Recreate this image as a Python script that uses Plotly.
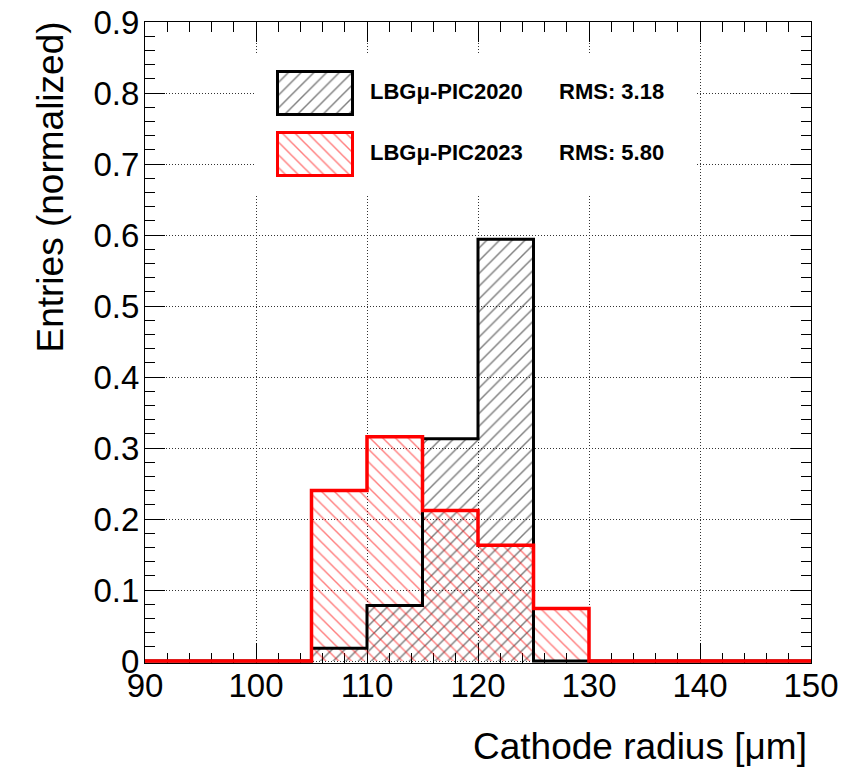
import plotly.graph_objects as go

# ---------------- data ----------------
bin_edges = [90, 95, 100, 105, 110, 115, 120, 125, 130, 135, 140, 145, 150]
pic2020 = [0, 0, 0, 0.018, 0.078, 0.313, 0.594, 0, 0, 0, 0, 0]
pic2023 = [0, 0, 0, 0.240, 0.316, 0.212, 0.163, 0.074, 0, 0, 0, 0]
label_2020 = "LBGμ-PIC2020"
label_2023 = "LBGμ-PIC2023"
rms_2020 = "RMS: 3.18"
rms_2023 = "RMS: 5.80"
x_title = "Cathode radius [μm]"
y_title = "Entries (normalized)"

# ---------------- geometry (page pixels; the page body has an 8px margin) ----------------
OFF = 8
PAGE_W, PAGE_H = 853, 774
W, H = PAGE_W - OFF, PAGE_H - OFF
FL, FR, FT, FB0 = 145, 811, 22, 663      # frame edges in page px (FB0: plot bottom)
ML, MT = FL - OFF, FT - OFF
MR = W - (FR - OFF)
MB = H - (FB0 - OFF)
PW = FR - FL
PH = FB0 - FT
YMAX = 0.9
YMIN = -YMAX * (PH / (661 - FT) - 1)  # y=0 at page row 661


def px_x(p):
    return (p - FL) / PW


def px_y(p):
    return (FB0 - p) / PH


centers = [(a + b) / 2 for a, b in zip(bin_edges[:-1], bin_edges[1:])]
widths = [b - a for a, b in zip(bin_edges[:-1], bin_edges[1:])]
FONT = "Liberation Sans, Arial, Helvetica, sans-serif"

fig = go.Figure()


def hatch(shape, col):
    return dict(shape=shape, fgcolor=col, bgcolor="rgba(0,0,0,0)",
                size=9, solidity=0.16, fillmode="overlay")


# hatched fills
fig.add_trace(go.Bar(x=centers, y=pic2020, width=widths,
                     marker=dict(color="rgba(0,0,0,0)", line=dict(width=0),
                                 pattern=hatch("/", "black")),
                     showlegend=False, hoverinfo="skip"))
fig.add_trace(go.Bar(x=centers, y=pic2023, width=widths,
                     marker=dict(color="rgba(0,0,0,0)", line=dict(width=0),
                                 pattern=hatch("\\", "red")),
                     showlegend=False, hoverinfo="skip"))
# step outlines
fig.add_trace(go.Scatter(x=bin_edges, y=pic2020 + [pic2020[-1]], mode="lines",
                         line=dict(shape="hv", color="black", width=3),
                         showlegend=False, hoverinfo="skip"))
fig.add_trace(go.Scatter(x=bin_edges, y=pic2023 + [pic2023[-1]], mode="lines",
                         line=dict(shape="hv", color="red", width=3.5),
                         showlegend=False, hoverinfo="skip"))

# ---------------- legend (pixel-coordinate overlay subplots) ----------------
LX0, LX1, LY0, LY1 = 255, 695, 55, 196
dom_x = [px_x(LX0), px_x(LX1)]
dom_y = [px_y(LY1), px_y(LY0)]

fig.add_trace(go.Scatter(x=[267, 688, 688, 267, 267], y=[67, 67, 189, 189, 67],
                         mode="lines", fill="toself", fillcolor="black",
                         line=dict(color="black", width=0),
                         xaxis="x2", yaxis="y2", showlegend=False, hoverinfo="skip"))
fig.add_trace(go.Scatter(x=[262, 683, 683, 262, 262], y=[62, 62, 184, 184, 62],
                         mode="lines", fill="toself", fillcolor="white",
                         line=dict(color="black", width=1),
                         xaxis="x2", yaxis="y2", showlegend=False, hoverinfo="skip"))
fig.add_trace(go.Bar(x=[315], y=[43], base=[71.5], width=[75],
                     marker=dict(color="rgba(0,0,0,0)",
                                 line=dict(width=3, color="black"),
                                 pattern=hatch("/", "black")),
                     cliponaxis=False, xaxis="x3", yaxis="y3",
                     showlegend=False, hoverinfo="skip"))
fig.add_trace(go.Bar(x=[315], y=[43], base=[132.5], width=[75],
                     marker=dict(color="rgba(0,0,0,0)",
                                 line=dict(width=3, color="red"),
                                 pattern=hatch("\\", "red")),
                     cliponaxis=False, xaxis="x3", yaxis="y3",
                     showlegend=False, hoverinfo="skip"))

hidden = dict(visible=False, showgrid=False, zeroline=False, fixedrange=True)

tick_common = dict(
    ticks="inside", tickcolor="black", tickwidth=1, ticklen=20,
    showline=True, linecolor="black", linewidth=1, mirror="ticks",
    showgrid=True, gridcolor="#333333", gridwidth=1, griddash="1px,2px",
    zeroline=False, automargin=False, ticklabeloverflow="allow",
    tickfont=dict(family=FONT, size=33, color="black"),
    layer="below traces",
)

fig.update_layout(
    width=W, height=H, autosize=False,
    margin=dict(l=ML, r=MR, t=MT, b=MB, pad=0),
    paper_bgcolor="white", plot_bgcolor="white",
    barmode="overlay", bargap=0,
    showlegend=False,
    xaxis=dict(range=[90, 150], tick0=90, dtick=10,
               minor=dict(dtick=2, ticks="inside", ticklen=10, tickcolor="black",
                          tickwidth=1, showgrid=False),
               ticklabelstandoff=-7,
               **tick_common),
    yaxis=dict(range=[YMIN, YMAX], tick0=0, dtick=0.1,
               minor=dict(dtick=0.02, ticks="inside", ticklen=10, tickcolor="black",
                          tickwidth=1, showgrid=False),
               ticklabelstandoff=-2,
               **tick_common),
    xaxis2=dict(domain=dom_x, range=[LX0, LX1], anchor="y2", **hidden),
    yaxis2=dict(domain=dom_y, range=[LY1, LY0], anchor="x2", **hidden),
    xaxis3=dict(domain=dom_x, range=[LX0, LX1], anchor="y3", **hidden),
    yaxis3=dict(domain=dom_y, range=[LY1, LY0], anchor="x3", **hidden),
)

ann_font = dict(family=FONT, size=22, color="black")
for txt, xx, yy in [(label_2020, 368, 92), (rms_2020, 557, 92),
                    (label_2023, 368, 153), (rms_2023, 557, 153)]:
    fig.add_annotation(x=xx, y=yy, xref="x3", yref="y3", text="<b>" + txt + "</b>",
                       showarrow=False, xanchor="left", yanchor="middle", font=ann_font)

fig.add_annotation(x=px_x(809), y=px_y(746), xref="paper", yref="paper", text=x_title,
                   showarrow=False, xanchor="right", yanchor="middle",
                   font=dict(family=FONT, size=37, color="black"))
fig.add_annotation(x=px_x(50), y=px_y(20), xref="paper", yref="paper", text=y_title,
                   textangle=-90, showarrow=False, xanchor="center", yanchor="top",
                   font=dict(family=FONT, size=37, color="black"))

fig.write_html("out.html")
